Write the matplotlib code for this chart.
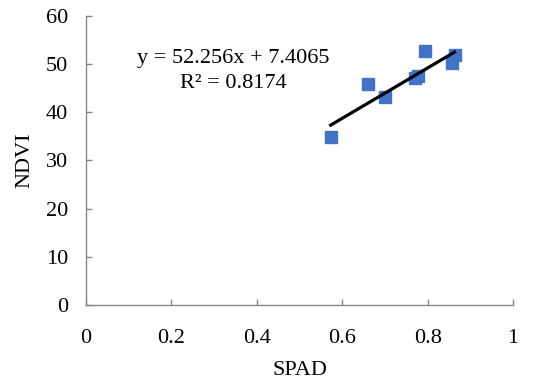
import matplotlib
matplotlib.use('Agg')
import matplotlib.pyplot as plt
import numpy as np

# scatter data
spad = [0.573, 0.661, 0.701, 0.771, 0.777, 0.795, 0.857, 0.863]
ndvi = [34.8, 45.8, 43.1, 47.2, 47.6, 52.7, 50.3, 51.9]

# trendline coefficients as printed on the chart
slope = 52.256
intercept = 7.4065
r2 = 0.8174

AXIS_GRAY = '#868686'
BLUE = '#4472C4'
FS = 16

plt.rcParams['font.family'] = ['Liberation Serif', 'DejaVu Serif']

fig = plt.figure(figsize=(5.56, 3.81), dpi=100)
ax = fig.add_axes([0.1547, 0.1995, 0.768, 0.7585])

ax.plot(spad, ndvi, linestyle='none', marker='s', markersize=9,
        color=BLUE, markeredgecolor=BLUE, zorder=3)

xs = np.array([min(spad), max(spad)])
ax.plot(xs, slope * xs + intercept, color='black', linewidth=2.3, zorder=4)

ax.set_xlim(0, 1)
ax.set_ylim(0, 60)
ax.set_xticks([0, 0.2, 0.4, 0.6, 0.8, 1])
ax.set_xticklabels(['0', '0.2', '0.4', '0.6', '0.8', '1'])
ax.set_yticks(range(0, 61, 10))

for side in ('top', 'right'):
    ax.spines[side].set_visible(False)
for side in ('left', 'bottom'):
    ax.spines[side].set_color(AXIS_GRAY)
    ax.spines[side].set_linewidth(1.0)

ax.tick_params(direction='in', length=4, width=1.0, colors=AXIS_GRAY,
               labelcolor='black', labelsize=FS)
ax.tick_params(axis='x', pad=17)
ax.tick_params(axis='y', pad=13)

ax.set_xlabel('SPAD', fontsize=FS)
ax.set_ylabel('NDVI', fontsize=FS)
ax.xaxis.set_label_coords(0.501, -0.195)
ax.yaxis.set_label_coords(-0.122, 0.502)

ax.text(0.344, 48.6, f'y = {slope}x + {intercept}\nR\u00b2 = {r2}',
        ha='center', va='center', fontsize=FS, linespacing=1.45)

fig.savefig('out.png', dpi=100, facecolor='white')
